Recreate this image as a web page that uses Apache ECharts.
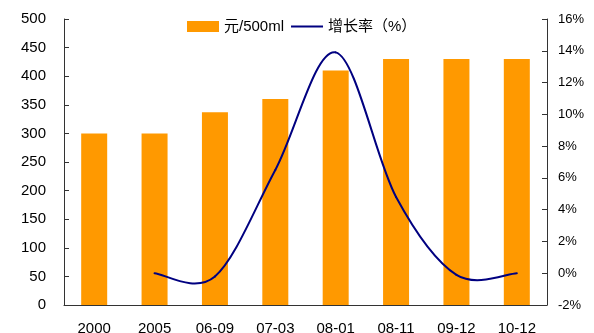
<!DOCTYPE html>
<html>
<head>
<meta charset="utf-8">
<script src="https://cdn.jsdelivr.net/npm/echarts@6/dist/echarts.min.js"></script>
<style>
html,body{margin:0;padding:0;background:#fff;}
#chart{width:594px;height:333px;}
</style>
</head>
<body>
<div id="chart"></div>
<script>
// Price per 500ml and its growth rate by period
const categories = ['2000', '2005', '06-09', '07-03', '08-01', '08-11', '09-12', '10-12'];
const priceValues = [300, 300, 337, 360, 410, 430, 430, 430];
const growthValues = [null, 0, -0.2, 6.5, 13.9, 4.8, -0.1, 0];
const priceName = '元/500ml';
const growthName = '增长率（%）';

const FONT = "'Liberation Sans', 'Noto Sans CJK SC', Arial, sans-serif";
const axisColor = '#333';
const textColor = '#000';
const barColor = '#FF9900';
const lineColor = '#000080';

// indices of categories that carry a growth value
const growthIdx = growthValues.map((v, i) => (v == null ? -1 : i)).filter(i => i >= 0);

// Catmull-Rom style smoothing: each segment is a cubic Bezier whose control
// points follow the neighbouring points (tangent = (next - prev) / 6).
function renderGrowth(params, api) {
  const k = params.dataIndex;
  if (k >= growthIdx.length - 1) return null;
  const pt = j => {
    const jj = Math.max(0, Math.min(growthIdx.length - 1, j));
    const ci = growthIdx[jj];
    return api.coord([ci, growthValues[ci]]);
  };
  const p0 = pt(k - 1), p1 = pt(k), p2 = pt(k + 1), p3 = pt(k + 2);
  return {
    type: 'bezierCurve',
    shape: {
      x1: p1[0], y1: p1[1],
      x2: p2[0], y2: p2[1],
      cpx1: p1[0] + (p2[0] - p0[0]) / 6, cpy1: p1[1] + (p2[1] - p0[1]) / 6,
      cpx2: p2[0] - (p3[0] - p1[0]) / 6, cpy2: p2[1] - (p3[1] - p1[1]) / 6
    },
    style: { stroke: lineColor, lineWidth: 2, fill: null, lineCap: 'round' }
  };
}

const chart = echarts.init(document.getElementById('chart'));
chart.setOption({
  animation: false,
  textStyle: { fontFamily: FONT },
  legend: {
    left: 187,
    top: 19,
    padding: 0,
    itemWidth: 32,
    itemHeight: 11,
    itemGap: 7,
    textStyle: { fontFamily: FONT, fontSize: 15, color: textColor },
    data: [
      { name: priceName, icon: 'rect' },
      // plain line swatch, no marker
      { name: growthName, icon: 'path://M0,0H32V2H0Z', itemStyle: { color: lineColor } }
    ]
  },
  grid: { left: 64, right: 47, top: 19, bottom: 28, containLabel: false, outerBoundsMode: 'none' },
  xAxis: {
    type: 'category',
    data: categories,
    axisLine: { lineStyle: { color: axisColor, width: 1 } },
    axisTick: { inside: true, length: 5, lineStyle: { color: axisColor } },
    axisLabel: { color: textColor, fontSize: 15, margin: 16, fontFamily: FONT }
  },
  yAxis: [
    {
      type: 'value',
      min: 0, max: 500, interval: 50,
      splitLine: { show: false },
      axisLine: { show: true, lineStyle: { color: axisColor } },
      axisTick: { show: true, inside: true, length: 5, lineStyle: { color: axisColor } },
      axisLabel: { color: textColor, fontSize: 15, margin: 18, fontFamily: FONT }
    },
    {
      type: 'value',
      min: -2, max: 16, interval: 2,
      splitLine: { show: false },
      axisLine: { show: true, lineStyle: { color: axisColor } },
      axisTick: { show: true, inside: true, length: 5, lineStyle: { color: axisColor } },
      axisLabel: { color: textColor, fontSize: 13, margin: 11, fontFamily: FONT, formatter: '{value}%' }
    }
  ],
  series: [
    {
      name: priceName,
      type: 'bar',
      data: priceValues,
      barWidth: 26,
      itemStyle: { color: barColor }
    },
    {
      name: growthName,
      type: 'custom',
      yAxisIndex: 1,
      renderItem: renderGrowth,
      encode: { x: 0, y: 1 },
      data: growthIdx.map(i => [i, growthValues[i]]),
      itemStyle: { color: lineColor },
      z: 3
    }
  ]
});
</script>
</body>
</html>
